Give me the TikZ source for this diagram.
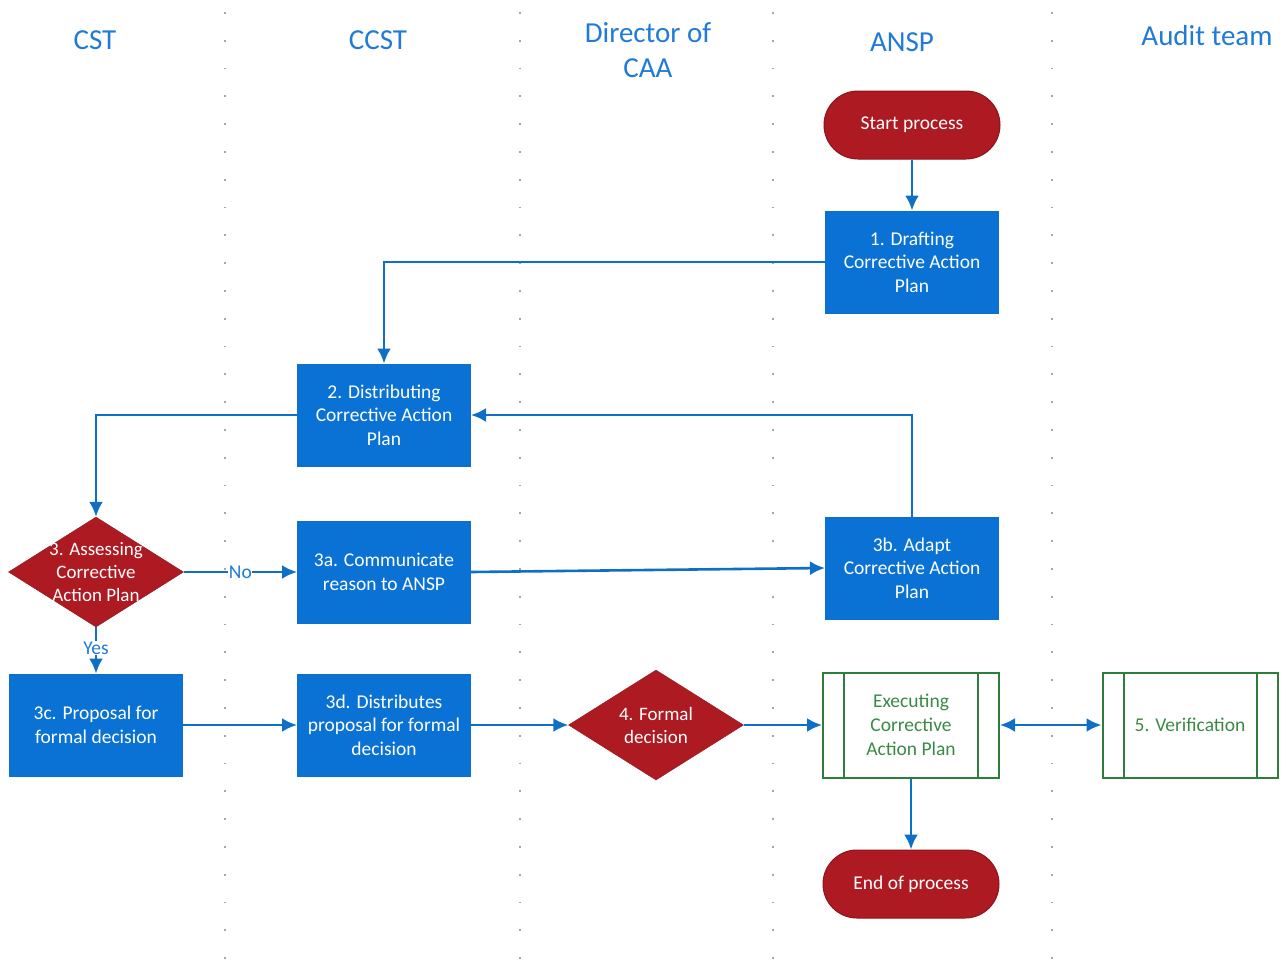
\documentclass[tikz,border=0pt]{standalone}
\usepackage{fontspec}
\setmainfont{Carlito}
\usetikzlibrary{shapes.geometric,arrows.meta,calc}
\definecolor{bluebox}{HTML}{0A72D4}
\definecolor{blueline}{HTML}{0F6FC6}
\definecolor{bluetext}{HTML}{1F7AD8}
\definecolor{redbox}{HTML}{AE1A22}
\definecolor{greenln}{HTML}{2F7D3A}
\definecolor{greentx}{HTML}{3A8A45}
\tikzset{
  procbox/.style={draw=blueline, fill=bluebox, minimum width=173pt, minimum height=102pt, text=white, align=center, font=\fontsize{19.5}{23.5}\selectfont, line width=1pt},
  term/.style={draw=redbox!80!black, fill=redbox, rounded corners=34pt, minimum width=176pt, minimum height=68pt, text=white, font=\fontsize{19.5}{22}\selectfont, line width=1pt},
  decis/.style={diamond, draw=redbox!80!black, fill=redbox, aspect=1.58, inner sep=-16pt, minimum width=175pt, minimum height=110pt, text=white, align=center, font=\fontsize{19}{23}\selectfont},
  predef/.style={draw=greenln, line width=2pt, minimum width=176pt, minimum height=105pt, text=greentx, align=center, font=\fontsize{19.5}{24}\selectfont},
  conn/.style={draw=blueline, line width=2.6pt, -{Latex[length=15pt,width=14pt]}},
  lane/.style={draw=gray!70, line width=1.8pt, dash pattern=on 1.8pt off 26pt},
  hdr/.style={text=bluetext, font=\fontsize{29}{35}\selectfont, align=center},
  lbl/.style={text=bluetext, font=\fontsize{19.5}{22}\selectfont, fill=white, inner sep=0.5pt}
}
\begin{document}
\begin{tikzpicture}[x=1pt,y=-1pt]
\useasboundingbox (0,0) rectangle (1288,962);
% lanes
\foreach \lx in {225,520,773,1052} \draw[lane] (\lx,12) -- (\lx,962);
% headers
\node[hdr] (hcst) at (95,40) {CST};
\node[hdr] (hccst) at (378,40) {CCST};
\node[hdr] (hdir) at (648,50) {Director of\\CAA};
\node[hdr] (hansp) at (902,42) {ANSP};
\node[hdr] (haud) at (1207,36) {Audit team};
% nodes
\node[term] (start) at (912,125) {Start process};
\node[procbox] (p1) at (912,262) {1. Drafting\\Corrective Action\\Plan};
\node[procbox] (p2) at (384,415) {2. Distributing\\Corrective Action\\Plan};
\node[decis] (d3) at (96,572) {3. Assessing\\Corrective\\Action Plan};
\node[procbox] (p3a) at (384,572) {3a. Communicate\\reason to ANSP};
\node[procbox] (p3b) at (912,568) {3b. Adapt\\Corrective Action\\Plan};
\node[procbox] (p3c) at (96,725) {3c. Proposal for\\formal decision};
\node[procbox] (p3d) at (384,725) {3d. Distributes\\proposal for formal\\decision};
\node[decis] (d4) at (656,725) {4. Formal\\decision};
\node[predef] (exec) at (911,725) {Executing\\Corrective\\Action Plan};
\draw[greenln, line width=2pt] ($(exec.north west)+(22,0)$) -- ($(exec.south west)+(22,0)$);
\draw[greenln, line width=2pt] ($(exec.north east)+(-22,0)$) -- ($(exec.south east)+(-22,0)$);
\node[predef, minimum width=175pt] (ver) at (1190,725) {5. Verification};
\draw[greenln, line width=2pt] ($(ver.north west)+(22,0)$) -- ($(ver.south west)+(22,0)$);
\draw[greenln, line width=2pt] ($(ver.north east)+(-22,0)$) -- ($(ver.south east)+(-22,0)$);
\node[term] (end) at (911,884) {End of process};
% connectors
\draw[conn] (start) -- (p1);
\draw[conn] (p1.west) -| (p2.north);
\draw[conn] (p2.west) -| (d3.north);
\draw[conn] (p3b.north) |- (p2.east);
\draw[conn] (d3.east) -- node[lbl] (lno) {No} (p3a.west);
\draw[conn] (p3a.east) -- (p3b.west);
\draw[conn] (d3.south) -- node[lbl, pos=0.45] (lyes) {Yes} (p3c.north);
\draw[conn] (p3c) -- (p3d);
\draw[conn] (p3d) -- (d4);
\draw[conn] (d4) -- (exec);
\draw[conn, {Latex[length=15pt,width=14pt]}-{Latex[length=15pt,width=14pt]}] (exec) -- (ver);
\draw[conn] (exec) -- (end);
\end{tikzpicture}
\end{document}
